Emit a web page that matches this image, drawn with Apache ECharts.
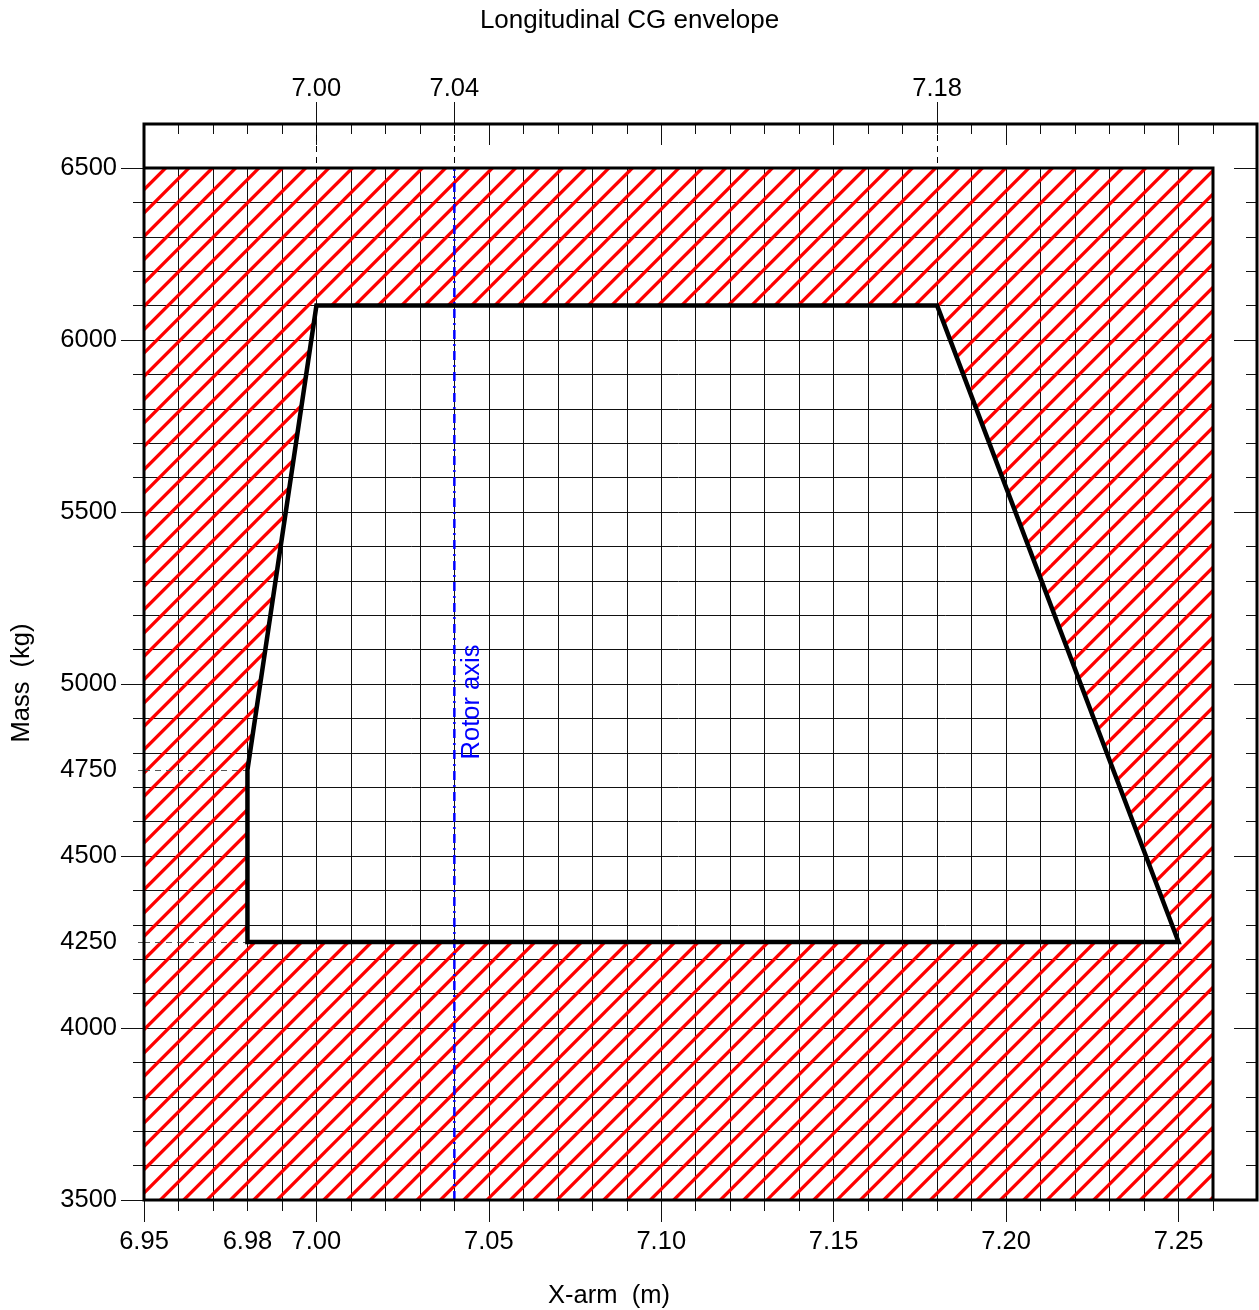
<!DOCTYPE html>
<html>
<head>
<meta charset="utf-8">
<script src="https://cdn.jsdelivr.net/npm/echarts@6/dist/echarts.min.js"></script>
<style>
html, body { margin: 0; padding: 0; background: #fff; }
#cg_chart { width: 1259px; height: 1310px; }
</style>
</head>
<body>
<div id="cg_chart"></div>
<script>
// axis range
var xMin = 6.95, xMax = 7.26;
var yMin = 3500, yMax = 6500;

// envelope corners (X-arm m, mass kg)
var envX = [6.98, 6.98, 7.00, 7.18, 7.25];
var envY = [4250, 4750, 6100, 6100, 4250];

var rotorX = 7.04;

// tick / label values
var xLabelValues = [6.95, 6.98, 7.00, 7.05, 7.10, 7.15, 7.20, 7.25];
var xMajorTicks = [6.95, 7.00, 7.05, 7.10, 7.15, 7.20, 7.25];
var topLabels = [7.00, 7.04, 7.18];
var yLabelValues = [3500, 4000, 4250, 4500, 4750, 5000, 5500, 6000, 6500];
var yMajorTicks = [3500, 4000, 4500, 5000, 5500, 6000, 6500];
var yDashed = [4250, 4750];

// red hatch tile
var hatch = document.createElement('canvas');
hatch.width = 70;
hatch.height = 70;
var hctx = hatch.getContext('2d');
hctx.strokeStyle = '#ff0000';
hctx.lineWidth = 3.3;
for (var d = -70 + 7; d < 220; d += 70 / 3) {
	hctx.beginPath();
	hctx.moveTo(-10, d + 10);
	hctx.lineTo(80, d - 80);
	hctx.stroke();
}

var FONT = 'Liberation Sans';
var FS = 25.5;
var gridColor = '#111';

function envPoints(api) {
	var pts = [];
	for (var i = 0; i < envX.length; i++) {
		pts.push(api.coord([envX[i], envY[i]]));
	}
	return pts;
}

function renderHatch(params, api) {
	var inner = envPoints(api);
	var pts = [
		api.coord([xMin, yMin]),
		api.coord([xMax, yMin]),
		api.coord([xMax, yMax]),
		api.coord([xMin, yMax]),
		api.coord([xMin, envY[0]])
	];
	pts = pts.concat(inner);
	pts.push(inner[0]);
	pts.push(api.coord([xMin, envY[0]]));
	return {
		type: 'polygon',
		shape: { points: pts },
		style: { fill: { image: hatch, repeat: 'repeat' }, stroke: null }
	};
}

function renderEnvelope(params, api) {
	return {
		type: 'polygon',
		shape: { points: envPoints(api) },
		style: { fill: null, stroke: '#000', lineWidth: 4.5, lineJoin: 'miter' }
	};
}

function fmtX(v) { return Number(v).toFixed(2); }
function fmtY(v) { return String(v); }

var baseX = { type: 'value', min: xMin, max: xMax, axisLine: { show: false, onZero: false },
	splitLine: { show: false }, axisLabel: { show: false } };
var baseY = { type: 'value', min: yMin, max: yMax, axisLine: { show: false, onZero: false },
	splitLine: { show: false }, axisLabel: { show: false } };

function ext(a, b) { return Object.assign({}, a, b); }

var option = {
	animation: false,
	backgroundColor: '#fff',
	textStyle: { fontFamily: FONT },
	title: {
		text: 'Longitudinal CG envelope',
		left: 'center',
		top: 8,
		padding: 0,
		textStyle: { fontFamily: FONT, fontSize: 26, fontWeight: 'normal', color: '#000' }
	},
	grid: { left: 144, right: 46, top: 168, bottom: 110, containLabel: false },
	xAxis: [
		ext(baseX, { position: 'bottom', interval: 0.01,
			axisTick: { length: 11, lineStyle: { color: gridColor } },
			splitLine: { show: true, lineStyle: { color: gridColor, width: 1 } } }),
		ext(baseX, { position: 'bottom',
			axisTick: { customValues: xMajorTicks, length: 22, lineStyle: { color: gridColor } },
			axisLabel: { show: true, customValues: xLabelValues, formatter: fmtX, margin: 29,
				fontSize: FS, color: '#000', fontFamily: FONT } }),
		ext(baseX, { position: 'top', offset: 44, interval: 0.01,
			axisTick: { inside: true, length: 10, lineStyle: { color: gridColor } } }),
		ext(baseX, { position: 'top', offset: 44,
			axisTick: { inside: true, customValues: xMajorTicks, length: 21, lineStyle: { color: gridColor } } }),
		ext(baseX, { position: 'top', offset: 44,
			axisTick: { inside: true, customValues: topLabels, length: 44,
				lineStyle: { color: '#000', type: [6, 5] } } }),
		ext(baseX, { position: 'top', offset: 44,
			axisTick: { customValues: topLabels, length: 22, lineStyle: { color: gridColor } },
			axisLabel: { show: true, customValues: topLabels, formatter: fmtX, margin: 22,
				fontSize: FS, color: '#000', fontFamily: FONT } })
	],
	yAxis: [
		ext(baseY, { position: 'left', interval: 100,
			axisTick: { length: 11, lineStyle: { color: gridColor } },
			splitLine: { show: true, lineStyle: { color: gridColor, width: 1 } } }),
		ext(baseY, { position: 'left',
			axisTick: { customValues: yMajorTicks, length: 23, lineStyle: { color: gridColor } },
			axisLabel: { show: true, customValues: yLabelValues, formatter: fmtY, margin: 27,
				fontSize: FS, color: '#000', fontFamily: FONT } }),
		ext(baseY, { position: 'left',
			axisTick: { customValues: yDashed, length: 11, lineStyle: { color: '#555', type: [6, 5] } } }),
		ext(baseY, { position: 'right', offset: 44, interval: 100,
			axisTick: { inside: true, length: 11, lineStyle: { color: gridColor } } }),
		ext(baseY, { position: 'right', offset: 44,
			axisTick: { inside: true, customValues: yMajorTicks, length: 23, lineStyle: { color: gridColor } } })
	],
	series: [
		{
			type: 'custom',
			name: 'hatch',
			silent: true,
			z: 2,
			data: [[xMin, yMin]],
			renderItem: renderHatch
		},
		{
			type: 'line',
			name: 'refs',
			silent: true,
			z: 3,
			data: [],
			markLine: {
				silent: true,
				symbol: 'none',
				label: { show: false },
				lineStyle: { color: '#555', width: 1, type: [6, 5] },
				data: [
					[{ coord: [xMin, yDashed[0]] }, { coord: [envX[0], yDashed[0]] }],
					[{ coord: [xMin, yDashed[1]] }, { coord: [envX[0], yDashed[1]] }]
				]
			}
		},
		{
			type: 'line',
			name: 'Rotor axis',
			silent: true,
			z: 4,
			symbol: 'none',
			data: [[rotorX, yMin], [rotorX, yMax]],
			lineStyle: { color: '#0000ff', width: 2.5, type: [9, 5, 2, 5] }
		},
		{
			type: 'custom',
			name: 'envelope',
			silent: true,
			z: 5,
			data: [[envX[0], envY[0]]],
			renderItem: renderEnvelope
		}
	],
	graphic: [
		{ type: 'rect', z: 100, silent: true,
			shape: { x: 144, y: 124, width: 1113, height: 1076 },
			style: { fill: null, stroke: '#000', lineWidth: 3 } },
		{ type: 'polyline', z: 100, silent: true,
			shape: { points: [[144, 168], [1213, 168], [1213, 1200]] },
			style: { fill: null, stroke: '#000', lineWidth: 3 } },
		{ type: 'text', z: 100, x: 609, y: 1296, silent: true,
			style: { text: 'X-arm  (m)', fontSize: FS, fontFamily: FONT, fill: '#000',
				align: 'center', verticalAlign: 'middle' } },
		{ type: 'text', z: 100, x: 22, y: 683, rotation: Math.PI / 2, silent: true,
			style: { text: 'Mass  (kg)', fontSize: FS, fontFamily: FONT, fill: '#000',
				align: 'center', verticalAlign: 'middle' } },
		{ type: 'text', z: 100, x: 472, y: 702, rotation: Math.PI / 2, silent: true,
			style: { text: 'Rotor axis', fontSize: FS, fontFamily: FONT, fill: '#0000ff',
				align: 'center', verticalAlign: 'middle' } }
	]
};

var cgChart = echarts.init(document.getElementById('cg_chart'));
cgChart.setOption(option);
</script>
</body>
</html>
